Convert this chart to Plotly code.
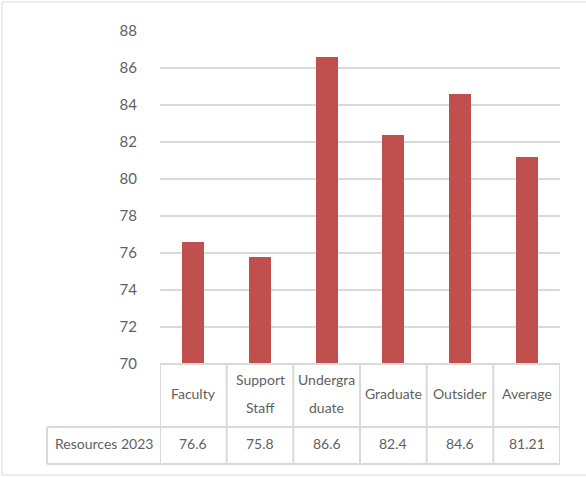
import plotly.graph_objects as go

# Survey scores by respondent group
categories = ["Faculty", "Support Staff", "Undergraduate", "Graduate", "Outsider", "Average"]
header_lines = [["Faculty"], ["Support", "Staff"], ["Undergra", "duate"],
                ["Graduate"], ["Outsider"], ["Average"]]
value_labels = ["76.6", "75.8", "86.6", "82.4", "84.6", "81.21"]
values = [76.6, 75.8, 86.6, 82.4, 84.6, 81.21]
series_name = "Resources 2023"
y_ticks = [70, 72, 74, 76, 78, 80, 82, 84, 86, 88]

W, H = 586, 477
ML, MR, MT, MB = 160, 26, 31, 113
plot_w = W - ML - MR
plot_h = H - MT - MB

TEXT = "#5f5f5f"
GRID = "#D9D9D9"
TABLE = "#D9D9D9"
FONT = "Lato"


def py(px_from_top):
    """Pixel row -> paper y."""
    return (H - MB - px_from_top) / plot_h


def px(px_from_left):
    """Pixel column -> paper x."""
    return (px_from_left - ML) / plot_w


fig = go.Figure(go.Bar(
    x=list(range(len(categories))),
    y=[v - 70 for v in values],
    base=70,
    marker=dict(color="#C0504D", line=dict(width=0)),
    width=0.33,
    name=series_name,
    hoverinfo="skip",
))

shapes = []
annotations = []

# outer chart border
shapes.append(dict(type="rect", xref="paper", yref="paper",
                   x0=px(2), x1=px(592), y0=py(2), y1=py(475),
                   line=dict(color="#D9D9D9", width=1), layer="below"))

header_bottom = py(427)
row_bottom = py(464)
n = len(categories)

# data-table grid lines, aligned to the category axis
line = dict(color=TABLE, width=2)
shapes.append(dict(type="line", xref="x", yref="paper", x0=-0.5, x1=n - 0.5,
                   y0=0, y1=0, line=line))
shapes.append(dict(type="line", xref="paper", yref="paper", x0=px(47), x1=1,
                   y0=header_bottom, y1=header_bottom, line=line))
shapes.append(dict(type="line", xref="paper", yref="paper", x0=px(47), x1=1,
                   y0=row_bottom, y1=row_bottom, line=line))
shapes.append(dict(type="line", xref="paper", yref="paper", x0=px(47), x1=px(47),
                   y0=header_bottom, y1=row_bottom, line=line))
for i in range(n + 1):
    shapes.append(dict(type="line", xref="x", yref="paper", x0=i - 0.5, x1=i - 0.5,
                       y0=0, y1=row_bottom, line=line))

font = dict(family=FONT, size=14, color=TEXT)
for i, lines in enumerate(header_lines):
    if len(lines) == 1:
        annotations.append(dict(x=i, y=py(393), xref="x", yref="paper", text=lines[0],
                                showarrow=False, font=font, xanchor="center", yanchor="middle"))
    else:
        for j, t in enumerate(lines):
            annotations.append(dict(x=i, y=py(379 + 29 * j), xref="x", yref="paper", text=t,
                                    showarrow=False, font=font, xanchor="center", yanchor="middle"))
    annotations.append(dict(x=i, y=py(443), xref="x", yref="paper", text=value_labels[i],
                            showarrow=False, font=font, xanchor="center", yanchor="middle"))

annotations.append(dict(x=(px(47) + 0) / 2, y=py(443), xref="paper", yref="paper",
                        text=series_name, showarrow=False, font=font,
                        xanchor="center", yanchor="middle"))

fig.update_layout(
    width=W, height=H,
    margin=dict(l=ML, r=MR, t=MT, b=MB),
    paper_bgcolor="white", plot_bgcolor="white",
    showlegend=False,
    bargap=0,
    xaxis=dict(range=[-0.5, n - 0.5], showticklabels=False, showgrid=False,
               zeroline=False, showline=False, ticks=""),
    yaxis=dict(range=[70, 88], tickvals=y_ticks, showgrid=True, gridcolor=GRID,
               gridwidth=1.5, zeroline=False, showline=False, ticks="",
               tickfont=dict(family=FONT, size=15, color=TEXT),
               ticklabelstandoff=22),
    shapes=shapes,
    annotations=annotations,
)

fig.write_html("out.html")
